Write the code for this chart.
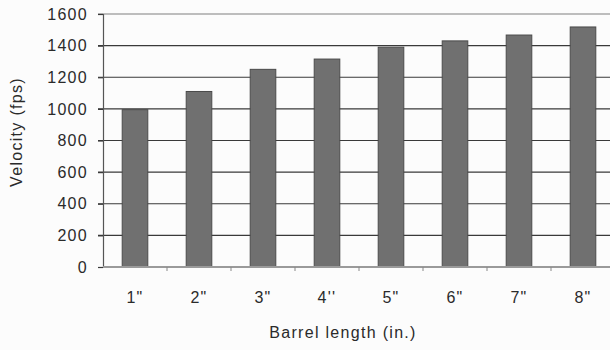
<!DOCTYPE html>
<html>
<head>
<meta charset="utf-8">
<script src="https://cdn.jsdelivr.net/npm/d3@7"></script>
<style>
  body { margin: 0; background: #fcfcfc; }
</style>
</head>
<body>
<div id="chart"></div>
<script>
// Muzzle velocity by barrel length

const categories = ["1\"", "2\"", "3\"", "4''", "5\"", "6\"", "7\"", "8\""];
const velocities = [995, 1110, 1250, 1315, 1390, 1430, 1467, 1518];
const yTicks = [0, 200, 400, 600, 800, 1000, 1200, 1400, 1600];

const width = 610;
const height = 350;
const margin = { top: 14, right: -5, bottom: 83, left: 103 };

let svg = d3
  .select("#chart")
  .append("svg")
  .attr("width", width)
  .attr("height", height)
  .style("display", "block");

svg.append("rect")
  .attr("width", width)
  .attr("height", height)
  .attr("fill", "#fcfcfc");

const x = d3
  .scaleBand()
  .domain(categories)
  .range([margin.left, width - margin.right])
  .paddingInner(0.6)
  .paddingOuter(0.3);

const y = d3
  .scaleLinear()
  .domain([0, 1600])
  .range([height - margin.bottom, margin.top]);

const font = "'Liberation Sans', Arial, sans-serif";
const textStyle = function (sel) {
  sel
    .style("font-family", font)
    .style("font-size", "16px")
    .style("letter-spacing", "1.3px")
    .attr("fill", "#2a2a2a");
};

// gridlines
svg
  .append("g")
  .selectAll("line")
  .data(yTicks.filter((d) => d > 0))
  .enter()
  .append("line")
  .attr("x1", margin.left - 5)
  .attr("x2", width)
  .attr("y1", (d) => y(d))
  .attr("y2", (d) => y(d))
  .attr("stroke", (d) => (d === 1600 ? "#bdbdbd" : "#3a3a3a"))
  .attr("stroke-width", (d) => (d === 1600 ? 2 : 1.2));

// y axis
let yAxis = svg
  .append("g")
  .attr("transform", `translate(${margin.left},0)`)
  .call(
    d3
      .axisLeft(y)
      .tickValues(yTicks)
      .tickFormat(d3.format("d"))
      .tickSize(5)
      .tickPadding(10)
  );
yAxis.select(".domain").attr("stroke", "#555").attr("stroke-width", 1.2);
yAxis.selectAll(".tick line").attr("stroke", "#3a3a3a").attr("stroke-width", 1.2);
yAxis.selectAll("text").call(textStyle);

// bars
svg
  .append("g")
  .selectAll("rect")
  .data(velocities)
  .enter()
  .append("rect")
  .attr("x", (d, i) => x(categories[i]))
  .attr("y", (d) => y(d))
  .attr("width", x.bandwidth())
  .attr("height", (d) => y(0) - y(d))
  .attr("fill", "#707070")
  .attr("stroke", "#4a4a4a")
  .attr("stroke-width", 1);

// x axis
let xAxis = svg.append("g");
xAxis
  .append("line")
  .attr("x1", margin.left)
  .attr("x2", width)
  .attr("y1", y(0))
  .attr("y2", y(0))
  .attr("stroke", "#9a9a9a")
  .attr("stroke-width", 2);
xAxis
  .selectAll(".xtick")
  .data(categories.slice(1))
  .enter()
  .append("line")
  .attr("class", "xtick")
  .attr("x1", (d) => x(d) - x.bandwidth() * 0.75)
  .attr("x2", (d) => x(d) - x.bandwidth() * 0.75)
  .attr("y1", y(0))
  .attr("y2", y(0) + 4)
  .attr("stroke", "#888")
  .attr("stroke-width", 1);
xAxis
  .selectAll("text")
  .data(categories)
  .enter()
  .append("text")
  .attr("x", (d) => x(d) + x.bandwidth() / 2)
  .attr("y", y(0) + 36)
  .attr("text-anchor", "middle")
  .call(textStyle)
  .text((d) => d);

// axis titles
svg
  .append("text")
  .attr("x", 343)
  .attr("y", 338)
  .attr("text-anchor", "middle")
  .call(textStyle)
  .text("Barrel length (in.)");

svg
  .append("text")
  .attr("transform", "translate(22,132) rotate(-90)")
  .attr("text-anchor", "middle")
  .call(textStyle)
  .text("Velocity (fps)");
</script>
</body>
</html>
